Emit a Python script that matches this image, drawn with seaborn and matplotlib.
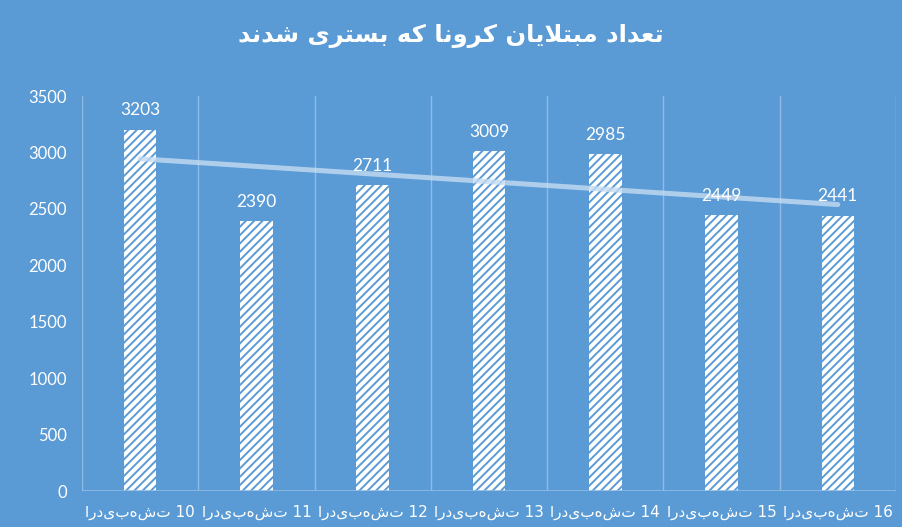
import numpy as np
import pandas as pd
import matplotlib
matplotlib.use("Agg")
import matplotlib.pyplot as plt
import seaborn as sns

categories = ["اردیبهشت 10", "اردیبهشت 11", "اردیبهشت 12", "اردیبهشت 13",
              "اردیبهشت 14", "اردیبهشت 15", "اردیبهشت 16"]
values = [3203, 2390, 2711, 3009, 2985, 2449, 2441]
yticks = [0, 500, 1000, 1500, 2000, 2500, 3000, 3500]

# Title "تعداد مبتلایان کرونا که بستری شدند" in shaped presentation forms, visual order
title_visual = ("\uFEAA\uFEE7\uFEAA\uFEB7 "
                "\uFBFC\uFEAE\uFE98\uFEB4\uFE91 "
                "\uFEEA\uFB90 "
                "\uFE8E\uFEE7\uFEED\uFEAE\uFB90 "
                "\uFEE5\uFE8E\uFBFE\uFEFC\uFE98\uFE92\uFEE3 "
                "\uFEA9\uFE8D\uFEAA\uFECC\uFE97")

BG = "#5b9bd5"
sns.set_style("white")
plt.rcParams["font.family"] = ["DejaVu Sans"]
plt.rcParams["hatch.linewidth"] = 1.4

df = pd.DataFrame({"cat": categories, "val": values})

fig = plt.figure(figsize=(9.02, 5.27), dpi=100, facecolor=BG)
ax = fig.add_axes([0.0909, 0.0683, 0.9024, 0.7495])
ax.set_facecolor(BG)

sns.barplot(data=df, x="cat", y="val", ax=ax, color="white", saturation=1,
            width=0.28, edgecolor=BG, linewidth=0, hatch="////")

# linear trend line
xs = np.arange(len(values))
coef = np.polyfit(xs, values, 1)
ax.plot(xs, np.polyval(coef, xs), color="#c5dcf3", alpha=0.8, lw=3.6,
        solid_capstyle="round", zorder=3)

for i, v in enumerate(values):
    ax.annotate(str(v), (i, v), xytext=(0, 8), textcoords="offset points",
                ha="center", va="bottom", color="white", fontsize=12.5,
                family=["Lato", "DejaVu Sans"])

ax.set_xlim(-0.5, len(values) - 0.5)
ax.set_ylim(0, 3500)
ax.set_yticks(yticks)
ax.set_yticklabels([str(t) for t in yticks], color="white", fontsize=12,
                   family=["Lato", "DejaVu Sans"])
ax.tick_params(axis="y", length=0, pad=11)
ax.tick_params(axis="x", length=0, pad=10, labelsize=11, labelcolor="white")
ax.set_xlabel("")
ax.set_ylabel("")

# vertical gridlines at category boundaries
for b in np.arange(-0.5, len(values), 1.0):
    ax.axvline(b, color="#8fbbe5", lw=1, zorder=0)
for s in ax.spines.values():
    s.set_visible(False)
ax.axhline(0, color="#8fbbe5", lw=1.2, zorder=4)

fig.text(0.5, 0.932, title_visual, ha="center", va="center", color="white",
         fontsize=17.5, fontweight="bold", family=["DejaVu Sans"])

fig.savefig("out.png", dpi=100, facecolor=BG)
